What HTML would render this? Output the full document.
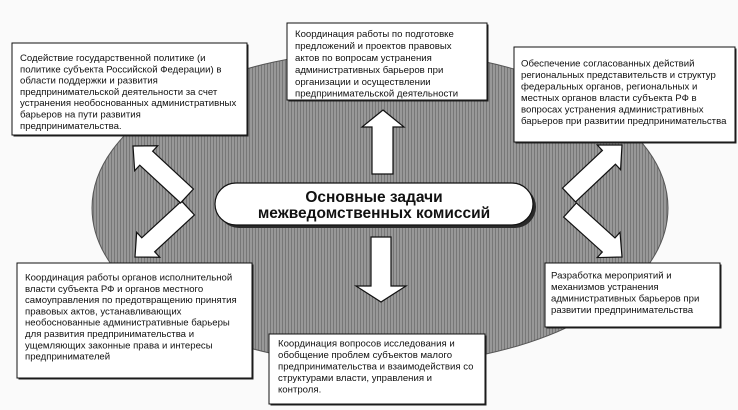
<!DOCTYPE html>
<html>
<head>
<meta charset="utf-8">
<style>
  html,body{margin:0;padding:0;background:#fafafa;}
  svg{display:block;}
  .t{font-family:"Liberation Sans","Noto Sans CJK SC",sans-serif;font-size:9.6px;fill:#111;}
  .h{font-family:"Liberation Sans","Noto Sans CJK SC",sans-serif;font-size:15.5px;font-weight:bold;fill:#111;}
</style>
</head>
<body>
<svg width="738" height="410" viewBox="0 0 738 410" xmlns="http://www.w3.org/2000/svg">
  <defs>
    <pattern id="stripes" width="3" height="4" patternUnits="userSpaceOnUse">
      <rect width="3" height="4" fill="#989898"/>
      <rect x="0" y="0" width="1" height="4" fill="#777"/>
    </pattern>
  </defs>
  <rect width="738" height="410" fill="#fafafa"/>

  <!-- big ellipse -->
  <ellipse cx="380" cy="208" rx="288" ry="157" fill="url(#stripes)" stroke="#555" stroke-width="1"/>

  <!-- central pill -->
  <rect x="218" y="186" width="318" height="42" rx="21" ry="21" fill="#2a2a2a"/>
  <rect x="215" y="183" width="318" height="42" rx="21" ry="21" fill="#fff" stroke="#111" stroke-width="1.2"/>
  <text class="h" x="374" y="202" text-anchor="middle">Основные задачи</text>
  <text class="h" x="374" y="218" text-anchor="middle">межведомственных комиссий</text>

  <!-- vertical arrows -->
  <polygon points="383,110 404,127 393,127 393,174 372,174 372,127 362,127" fill="#fff" stroke="#111" stroke-width="1.2"/>
  <polygon points="371,237 391,237 391,286 406,286 381,302 356,286 371,286" fill="#fff" stroke="#111" stroke-width="1.2"/>

  <!-- left diagonal arrows -->
  <polygon points="181.55,201.03 141.76,237.81 136.67,232.30 135,257 159.75,257.26 154.66,251.75 194.45,214.97" fill="#fff" stroke="#111" stroke-width="1.2"/>
  <polygon points="193.45,189.03 152.66,151.25 157.75,145.74 133,146 134.67,170.70 139.76,165.19 180.55,202.97" fill="#fff" stroke="#111" stroke-width="1.2"/>

  <!-- right diagonal arrows -->
  <polygon points="563.64,217.05 602.28,251.99 597.25,257.55 622,257 620.03,232.33 615.0,237.89 576.36,202.95" fill="#fff" stroke="#111" stroke-width="1.2"/>
  <polygon points="575.52,201.91 615.43,164.26 620.57,169.71 622,145 597.25,144.99 602.39,150.44 562.48,188.09" fill="#fff" stroke="#111" stroke-width="1.2"/>

  <!-- Box TL -->
  <rect x="13.5" y="44.5" width="235" height="92" fill="#222"/>
  <rect x="12" y="43" width="235" height="92" fill="#fff" stroke="#111" stroke-width="1"/>
  <text class="t" x="20" y="61">Содействие государственной политике (и</text>
  <text class="t" x="20" y="72.3">политике субъекта Российской Федерации) в</text>
  <text class="t" x="20" y="83.6">области поддержки и развития</text>
  <text class="t" x="20" y="94.9">предпринимательской деятельности за счет</text>
  <text class="t" x="20" y="106.2">устранения необоснованных административных</text>
  <text class="t" x="20" y="117.5">барьеров на пути развития</text>
  <text class="t" x="20" y="128.8">предпринимательства.</text>

  <!-- Box TC -->
  <rect x="288.5" y="24.5" width="200" height="77" fill="#222"/>
  <rect x="287" y="23" width="200" height="77" fill="#fff" stroke="#111" stroke-width="1"/>
  <text class="t" x="295" y="37">Координация работы  по подготовке</text>
  <text class="t" x="295" y="49">предложений  и проектов правовых</text>
  <text class="t" x="295" y="61">актов по вопросам устранения</text>
  <text class="t" x="295" y="73">административных барьеров при</text>
  <text class="t" x="295" y="85">организации и осуществлении</text>
  <text class="t" x="295" y="96.5">предпринимательской деятельности</text>

  <!-- Box TR -->
  <rect x="515.5" y="48.5" width="221" height="95" fill="#222"/>
  <rect x="514" y="47" width="221" height="95" fill="#fff" stroke="#111" stroke-width="1"/>
  <text class="t" x="521" y="66.5">Обеспечение согласованных действий</text>
  <text class="t" x="521" y="78">региональных представительств и структур</text>
  <text class="t" x="521" y="89.5">федеральных органов, региональных и</text>
  <text class="t" x="521" y="101">местных органов власти субъекта РФ в</text>
  <text class="t" x="521" y="112.5">вопросах устранения административных</text>
  <text class="t" x="521" y="124">барьеров при развитии предпринимательства</text>

  <!-- Box BL -->
  <rect x="18.5" y="264.5" width="235" height="115" fill="#222"/>
  <rect x="17" y="263" width="235" height="115" fill="#fff" stroke="#111" stroke-width="1"/>
  <text class="t" x="25" y="280.5">Координация работы органов исполнительной</text>
  <text class="t" x="25" y="291.8">власти субъекта РФ и органов местного</text>
  <text class="t" x="25" y="303.1">самоуправления по предотвращению принятия</text>
  <text class="t" x="25" y="314.4">правовых актов, устанавливающих</text>
  <text class="t" x="25" y="325.7">необоснованные административные барьеры</text>
  <text class="t" x="25" y="337">для развития  предпринимательства и</text>
  <text class="t" x="25" y="348.3">ущемляющих законные права и интересы</text>
  <text class="t" x="25" y="359.6">предпринимателей</text>

  <!-- Box BC -->
  <rect x="270.5" y="335.5" width="216" height="70" fill="#222"/>
  <rect x="269" y="334" width="216" height="70" fill="#fff" stroke="#111" stroke-width="1"/>
  <text class="t" x="278" y="346.5">Координация вопросов исследования и</text>
  <text class="t" x="278" y="358">обобщение проблем субъектов малого</text>
  <text class="t" x="278" y="369.5">предпринимательства и взаимодействия со</text>
  <text class="t" x="278" y="381">структурами власти, управления и</text>
  <text class="t" x="278" y="392.5">контроля.</text>

  <!-- Box BR -->
  <rect x="546.5" y="264.5" width="175" height="64" fill="#222"/>
  <rect x="545" y="263" width="175" height="64" fill="#fff" stroke="#111" stroke-width="1"/>
  <text class="t" x="551" y="278.5">Разработка мероприятий и</text>
  <text class="t" x="551" y="290">механизмов устранения</text>
  <text class="t" x="551" y="301.5">административных барьеров при</text>
  <text class="t" x="551" y="313">развитии предпринимательства</text>
</svg>
</body>
</html>
